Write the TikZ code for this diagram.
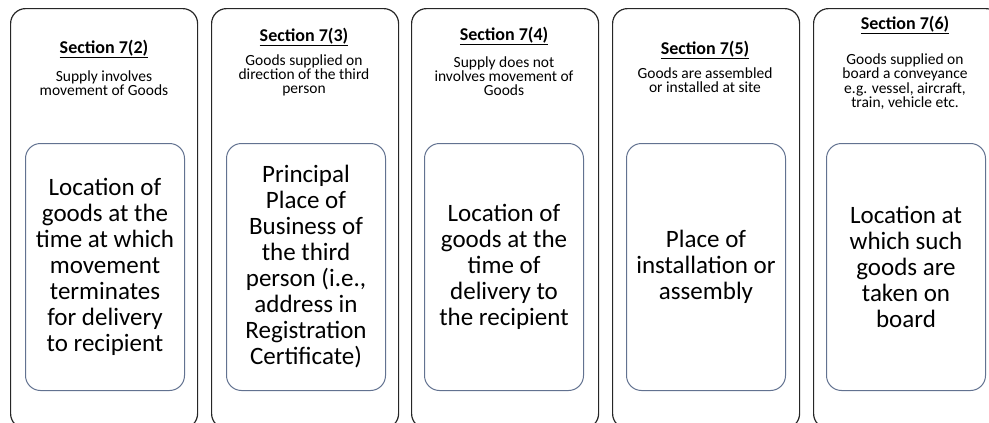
\documentclass[tikz,border=0pt]{standalone}
\usepackage{fontspec}
\setmainfont{Carlito}
\definecolor{innerline}{RGB}{98,114,144}
\begin{document}
\begin{tikzpicture}[x=1pt,y=-1pt,
  outerbox/.style={draw=black!85,line width=1.2pt,rounded corners=15pt,
    minimum width=187pt,minimum height=420pt,anchor=north west,inner sep=0pt},
  innerbox/.style={draw=innerline,line width=1pt,rounded corners=15pt,
    minimum width=159pt,minimum height=247pt,anchor=north west,inner sep=0pt,
    align=center,font=\fontsize{25}{26}\selectfont},
  secttitle/.style={font=\fontsize{18}{18}\selectfont\bfseries,inner sep=0pt},
  sectdesc/.style={align=center,font=\fontsize{15.5}{14.3}\selectfont,inner sep=0pt}]
\useasboundingbox (0,0) rectangle (989,423);
\clip (0,0) rectangle (989,423);

% five section panels
\node[outerbox] (o1) at (10,8) {};
\node[outerbox] (o2) at (211,8) {};
\node[outerbox] (o3) at (411,8) {};
\node[outerbox] (o4) at (612,8) {};
\node[outerbox] (o5) at (813,8) {};

% headings
\node[secttitle] (t1) at (104,49) {\underline{Section 7(2)}};
\node[secttitle] (t2) at (304,37) {\underline{Section 7(3)}};
\node[secttitle] (t3) at (504,36) {\underline{Section 7(4)}};
\node[secttitle] (t4) at (705,50) {\underline{Section 7(5)}};
\node[secttitle] (t5) at (905,25) {\underline{Section 7(6)}};

% descriptions
\node[sectdesc] (d1) at (104,83) {Supply involves\\movement of Goods};
\node[sectdesc] (d2) at (304,75.5) {Goods supplied on\\direction of the third\\person};
\node[sectdesc] (d3) at (504,76) {Supply does not\\involves movement of\\Goods};
\node[sectdesc] (d4) at (705,80.5) {Goods are assembled\\or installed at site};
\node[sectdesc] (d5) at (905,81.5) {Goods supplied on\\board a conveyance\\e.g. vessel, aircraft,\\train, vehicle etc.};

% place-of-supply boxes
\node[innerbox] (i1) at (25,143) {Location of\\goods at the\\time at which\\movement\\terminates\\for delivery\\to recipient};
\node[innerbox] (i2) at (226,143) {Principal\\Place of\\Business of\\the third\\person (i.e.,\\address in\\Registration\\Certificate)};
\node[innerbox] (i3) at (424,143) {Location of\\goods at the\\time of\\delivery to\\the recipient};
\node[innerbox] (i4) at (626,143) {Place of\\installation or\\assembly};
\node[innerbox] (i5) at (826,143) {Location at\\which such\\goods are\\taken on\\board};
\end{tikzpicture}
\end{document}
